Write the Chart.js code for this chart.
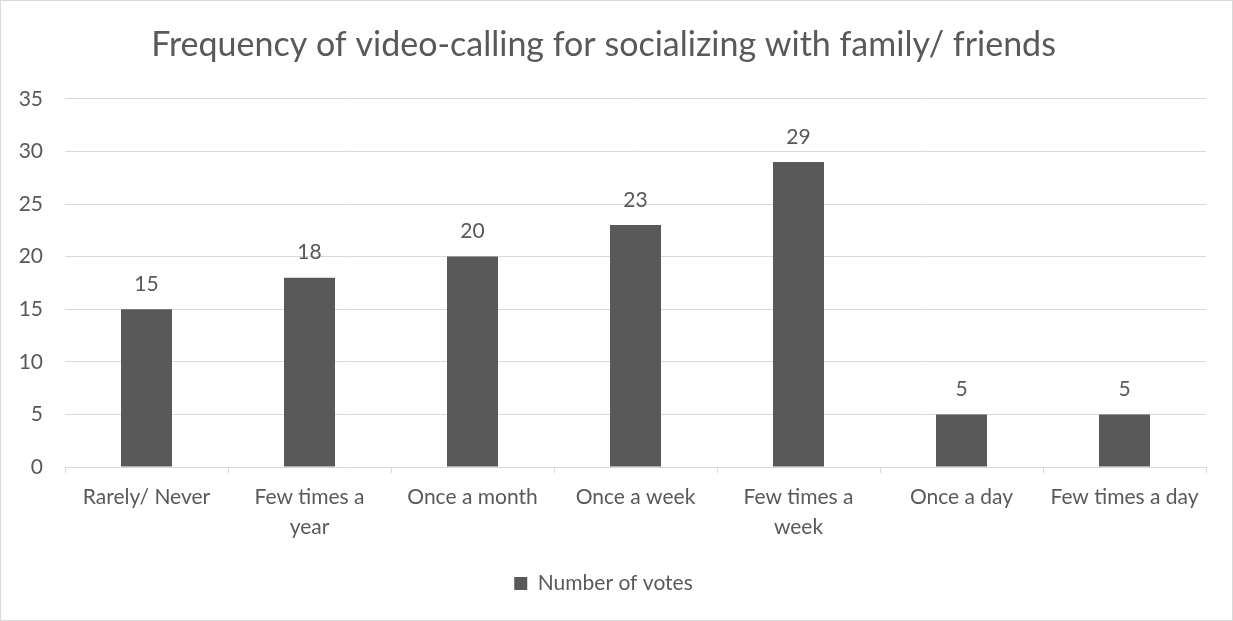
<!DOCTYPE html>
<html>
<head>
<meta charset="utf-8">
<script src="https://cdn.jsdelivr.net/npm/chart.js@4/dist/chart.umd.min.js"></script>
<style>
  html, body { margin: 0; padding: 0; background: #fff; }
  #wrap {
    position: relative;
    width: 1231px;
    height: 619px;
    border: 1px solid #d9d9d9;
  }
</style>
</head>
<body>
<div id="wrap"><canvas id="chart"></canvas></div>
<script>
const categories = [
  "Rarely/ Never",
  ["Few times a", "year"],
  "Once a month",
  "Once a week",
  ["Few times a", "week"],
  "Once a day",
  "Few times a day"
];
const votes = [15, 18, 20, 23, 29, 5, 5];
const yTicks = [0, 5, 10, 15, 20, 25, 30, 35];

const textColor = "#595959";
const gridColor = "#d9d9d9";
const font = "Lato, 'Open Sans', sans-serif";

// labels above the bars
const valueLabels = {
  id: "valueLabels",
  afterDatasetsDraw(chart) {
    const ctx = chart.ctx;
    const meta = chart.getDatasetMeta(0);
    ctx.save();
    ctx.fillStyle = textColor;
    ctx.font = "21px " + font;
    ctx.textAlign = "center";
    ctx.textBaseline = "middle";
    meta.data.forEach((bar, i) => {
      ctx.fillText(votes[i], bar.x, bar.y - 25);
    });
    ctx.restore();
  }
};

new Chart(document.getElementById("chart"), {
  type: "bar",
  data: {
    labels: categories,
    datasets: [{
      label: "Number of votes",
      data: votes,
      backgroundColor: "#595959",
      borderWidth: 0,
      barPercentage: 0.626,
      categoryPercentage: 0.5
    }]
  },
  options: {
    responsive: true,
    maintainAspectRatio: false,
    animation: false,
    layout: { padding: { left: 0, right: 26, top: 14, bottom: 16 } },
    plugins: {
      title: {
        display: true,
        text: "Frequency of video-calling for socializing with family/ friends",
        color: textColor,
        font: { family: font, size: 34, weight: "normal" },
        padding: { top: 10, bottom: 33 }
      },
      legend: {
        position: "bottom",
        labels: {
          color: textColor,
          font: { family: font, size: 21 },
          boxWidth: 13,
          boxHeight: 13,
          padding: 12
        }
      },
      tooltip: { enabled: false }
    },
    scales: {
      x: {
        afterFit(scale) { scale.height = 94; },
        grid: {
          display: true,
          offset: true,
          drawOnChartArea: false,
          drawTicks: true,
          tickLength: 6,
          color: gridColor
        },
        border: { display: true, color: gridColor, width: 1 },
        ticks: {
          color: textColor,
          font: { family: font, size: 21, lineHeight: 1.43 },
          maxRotation: 0,
          autoSkip: false,
          padding: 9
        }
      },
      y: {
        min: 0,
        max: 35,
        afterFit(scale) { scale.width = 64; },
        afterBuildTicks(axis) {
          axis.ticks = yTicks.map(v => ({ value: v }));
        },
        grid: { color: gridColor, drawTicks: false },
        border: { display: false },
        ticks: {
          color: textColor,
          font: { family: font, size: 21 },
          padding: 22
        }
      }
    }
  },
  plugins: [valueLabels]
});
</script>
</body>
</html>
